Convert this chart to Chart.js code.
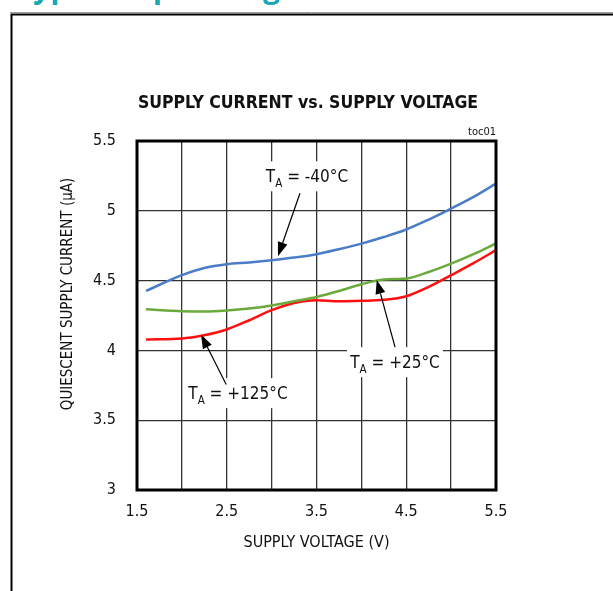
<!DOCTYPE html>
<html>
<head>
<meta charset="utf-8">
<script src="https://cdn.jsdelivr.net/npm/chart.js@4"></script>
<style>
  html, body { margin: 0; padding: 0; background: #ffffff; }
  #wrap { width: 613px; height: 591px; }
</style>
</head>
<body>
<div id="wrap"><canvas id="grafico" width="613" height="591"></canvas></div>
<script>
// Dati (V, uA)
const tensione = [1.6, 2.0, 2.25, 2.5, 2.75, 3.0, 3.25, 3.5, 3.75, 4.0, 4.25, 4.5, 4.75, 5.0, 5.25, 5.5];
const correnteMeno40 = [4.426, 4.539, 4.590, 4.617, 4.630, 4.646, 4.665, 4.689, 4.725, 4.765, 4.812, 4.866, 4.937, 5.016, 5.100, 5.195];
const correntePiu25 = [4.295, 4.281, 4.279, 4.286, 4.300, 4.322, 4.352, 4.383, 4.425, 4.474, 4.508, 4.515, 4.562, 4.622, 4.690, 4.766];
const correntePiu125 = [4.078, 4.086, 4.109, 4.150, 4.216, 4.288, 4.340, 4.360, 4.352, 4.355, 4.362, 4.388, 4.455, 4.539, 4.625, 4.718];
const etichetteX = ['1.5', '2.5', '3.5', '4.5', '5.5'];
const etichetteY = ['3', '3.5', '4', '4.5', '5', '5.5'];
const titolo = 'SUPPLY CURRENT vs. SUPPLY VOLTAGE';
const titoloY = 'QUIESCENT SUPPLY CURRENT (µA)';

const FONT = "'Liberation Sans Narrow', 'DejaVu Sans Condensed', 'Liberation Sans', sans-serif";

// Etichette con freccia
const note = [
    { sub: 'A', testo: ' = -40°C', cx: 3.394, cy: 5.247, w: 88, da: [3.316, 5.126], a: [3.071, 4.675] },
    { sub: 'A', testo: ' = +25°C', cx: 4.375, cy: 3.916, w: 96, da: [4.375, 4.024], a: [4.171, 4.505] },
    { sub: 'A', testo: ' = +125°C', cx: 2.625, cy: 3.694, w: 96, da: [2.494, 3.756], a: [2.213, 4.114] }
];

function punti(valori) {
    return tensione.map((v, i) => ({ x: v, y: valori[i] }));
}

function serie(valori, colore) {
    return {
        data: punti(valori),
        borderColor: colore,
        borderWidth: 2.5,
        pointRadius: 0,
        cubicInterpolationMode: 'monotone',
        fill: false
    };
}

// Cornice, intestazione, titoli, bordo del grafico
const cornice = {
    id: 'cornice',
    beforeDraw(chart) {
        const ctx = chart.ctx;
        ctx.save();
        ctx.fillStyle = '#ffffff';
        ctx.fillRect(0, 0, chart.width, chart.height);
        ctx.fillStyle = '#19a9b3';
        ctx.font = "bold 30px 'Open Sans', sans-serif";
        ctx.textAlign = 'left';
        ctx.textBaseline = 'alphabetic';
        ctx.fillText('Typical Operating Characteristics', 16, -2);
        ctx.strokeStyle = '#9a9a9a';
        ctx.lineWidth = 1;
        ctx.beginPath();
        ctx.moveTo(10, 12.5);
        ctx.lineTo(chart.width, 12.5);
        ctx.stroke();
        ctx.strokeStyle = '#000000';
        ctx.lineWidth = 2;
        ctx.beginPath();
        ctx.moveTo(chart.width, 14.5);
        ctx.lineTo(11.5, 14.5);
        ctx.lineTo(11.5, chart.height);
        ctx.stroke();

        // titolo
        ctx.fillStyle = '#111111';
        ctx.font = 'bold 17.5px ' + FONT;
        ctx.textAlign = 'center';
        ctx.textBaseline = 'middle';
        ctx.fillText(titolo, 308, 103);

        // titolo asse Y
        ctx.translate(68, 294);
        ctx.rotate(-Math.PI / 2);
        ctx.font = '15px ' + FONT;
        ctx.fillText(titoloY, 0, 0);
        ctx.restore();
    },
    beforeDatasetsDraw(chart) {
        const { ctx, scales: { x, y } } = chart;
        ctx.save();
        ctx.fillStyle = '#ffffff';
        note.forEach(n => {
            const px = x.getPixelForValue(n.cx);
            const py = y.getPixelForValue(n.cy);
            ctx.fillRect(px - n.w / 2, py - 15, n.w, 30);
        });
        ctx.restore();
    },
    afterDatasetsDraw(chart) {
        const { ctx, chartArea: a, scales: { x, y } } = chart;
        ctx.save();
        // bordo spesso
        ctx.strokeStyle = '#000000';
        ctx.lineWidth = 3;
        ctx.strokeRect(a.left, a.top, a.right - a.left, a.bottom - a.top);

        // toc01
        ctx.fillStyle = '#111111';
        ctx.font = '11px ' + FONT;
        ctx.textAlign = 'right';
        ctx.textBaseline = 'alphabetic';
        ctx.fillText('toc01', a.right, a.top - 6);

        note.forEach(n => {
            const px = x.getPixelForValue(n.cx);
            const py = y.getPixelForValue(n.cy);
            ctx.font = '17px ' + FONT;
            const wT = ctx.measureText('T').width;
            const wR = ctx.measureText(n.testo).width;
            ctx.font = '11.5px ' + FONT;
            const wS = ctx.measureText(n.sub).width;
            let sx = px - (wT + wS + wR) / 2;
            const base = py + 6;
            ctx.textAlign = 'left';
            ctx.fillStyle = '#111111';
            ctx.font = '17px ' + FONT;
            ctx.fillText('T', sx, base);
            ctx.font = '11.5px ' + FONT;
            ctx.fillText(n.sub, sx + wT, base + 5);
            ctx.font = '17px ' + FONT;
            ctx.fillText(n.testo, sx + wT + wS, base);

            // freccia
            const x0 = x.getPixelForValue(n.da[0]), y0 = y.getPixelForValue(n.da[1]);
            const x1 = x.getPixelForValue(n.a[0]), y1 = y.getPixelForValue(n.a[1]);
            const ang = Math.atan2(y1 - y0, x1 - x0);
            const lung = 14, larg = 5;
            const bx = x1 - lung * Math.cos(ang), by = y1 - lung * Math.sin(ang);
            ctx.strokeStyle = '#000000';
            ctx.lineWidth = 1.2;
            ctx.beginPath();
            ctx.moveTo(x0, y0);
            ctx.lineTo(bx, by);
            ctx.stroke();
            ctx.fillStyle = '#000000';
            ctx.beginPath();
            ctx.moveTo(x1, y1);
            ctx.lineTo(bx + larg * Math.sin(ang), by - larg * Math.cos(ang));
            ctx.lineTo(bx - larg * Math.sin(ang), by + larg * Math.cos(ang));
            ctx.closePath();
            ctx.fill();
        });
        ctx.restore();
    }
};

const ctx = document.getElementById('grafico').getContext('2d');
Chart.defaults.font.family = FONT;
Chart.defaults.color = '#111111';

new Chart(ctx, {
    type: 'line',
    data: {
        datasets: [
            serie(correnteMeno40, '#4a7cc7'),
            serie(correntePiu25, '#6aaa3c'),
            serie(correntePiu125, '#ff1010')
        ]
    },
    options: {
        responsive: false,
        animation: false,
        layout: { padding: { left: 0, right: 117, top: 141, bottom: 0 } },
        plugins: {
            legend: { display: false },
            tooltip: { enabled: false },
            title: { display: false }
        },
        scales: {
            x: {
                type: 'linear',
                min: 1.5,
                max: 5.5,
                afterFit: s => { s.height = 101; },
                grid: { color: '#333333', lineWidth: 1.3, drawTicks: false },
                border: { display: false },
                ticks: {
                    stepSize: 0.5,
                    padding: 12,
                    autoSkip: false,
                    maxRotation: 0,
                    font: { size: 16 },
                    callback: v => etichetteX.includes(String(v)) ? String(v) : ''
                },
                title: {
                    display: true,
                    text: 'SUPPLY VOLTAGE (V)',
                    font: { size: 16, lineHeight: 1.2 },
                    padding: { top: 0, bottom: 38.5 }
                }
            },
            y: {
                type: 'linear',
                min: 3,
                max: 5.5,
                afterFit: s => { s.width = 137; },
                grid: { color: '#333333', lineWidth: 1.3, drawTicks: false },
                border: { display: false },
                ticks: {
                    stepSize: 0.5,
                    padding: 21,
                    font: { size: 16 },
                    callback: v => etichetteY.includes(String(v)) ? String(v) : ''
                },
                title: { display: false }
            }
        }
    },
    plugins: [cornice]
});
</script>
</body>
</html>
